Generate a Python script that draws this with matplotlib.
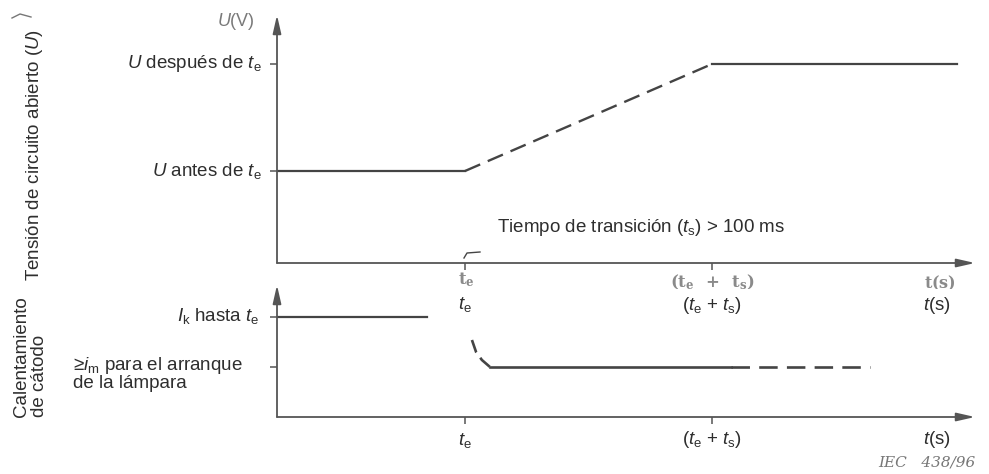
import matplotlib
matplotlib.use("Agg")
import matplotlib.pyplot as plt
from matplotlib.patches import Rectangle

plt.rcParams['font.family'] = ['Liberation Sans', 'DejaVu Sans']
plt.rcParams['mathtext.fontset'] = 'custom'
plt.rcParams['mathtext.rm'] = 'Liberation Sans'
plt.rcParams['mathtext.it'] = 'Liberation Sans:italic'
plt.rcParams['mathtext.bf'] = 'DejaVu Serif:bold'

# ---- data (arbitrary units) ----
t_e = 1.0                 # switching instant
t_s = 1.314               # transition time
t_axis_end = 3.713        # end of time axis
upper_t_end = 3.617       # end of drawn voltage line
U_before = 1.0            # U antes de t_e
U_after = 2.163           # U despues de t_e
U_axis_top = 2.696

I_k = 2.0                 # preheating current until t_e
i_m = 1.0                 # minimum current for lamp start
I_axis_top = 2.64
Ik_visible_end = 0.798
decay_t = [1.037, 1.059, 1.09, 1.133]
decay_i = [1.54, 1.30, 1.14, 1.0]
im_solid_end = 2.415
im_dashed_end = 3.154

tick_times = [t_e, t_e + t_s]
time_labels = [r"$t_\mathrm{e}$", r"($t_\mathrm{e}$ + $t_\mathrm{s}$)", r"$t$(s)"]
old_time_labels = [r"$\mathbf{t_e}$", r"$\mathbf{(t_e\ \ +\ \ t_s)}$", r"$\mathbf{t(s)}$"]

W, H = 989, 474
fig = plt.figure(figsize=(W / 100, H / 100), dpi=100)
fig.patch.set_facecolor('white')

def fx(x):
    return x / W

def fy(y):
    return 1 - y / H

LINE = '#444444'
AXC = '#555555'
TXT = '#2e2e2e'
FS = 13.5

def setup(ax, ymax, yticks):
    ax.set_xlim(0, t_axis_end)
    ax.set_ylim(0, ymax)
    for s in ax.spines.values():
        s.set_visible(False)
    ax.set_facecolor('none')
    ax.set_xticks(tick_times)
    ax.set_yticks(yticks)
    ax.tick_params(length=5, width=1.1, color=AXC, direction='out',
                   labelleft=False, labelbottom=False)
    ap = dict(arrowstyle='-|>,head_length=1.1,head_width=0.25', color=AXC,
              lw=1.3, shrinkA=0, shrinkB=0)
    ax.annotate('', xy=(1, 0), xytext=(0, 0), xycoords='axes fraction',
                arrowprops=ap, annotation_clip=False)
    ax.annotate('', xy=(0, 1), xytext=(0, 0), xycoords='axes fraction',
                arrowprops=ap, annotation_clip=False)

# ---- upper panel: open circuit voltage ----
ax_u = fig.add_axes([fx(277), fy(263), (975 - 277) / W, (263 - 15) / H])
setup(ax_u, U_axis_top, [U_before, U_after])
ax_u.plot([0, t_e], [U_before, U_before], color=LINE, lw=1.6)
ax_u.plot([t_e, t_e + t_s], [U_before, U_after], color=LINE, lw=1.7,
          dashes=(7, 3.5))
ax_u.plot([t_e + t_s, upper_t_end], [U_after, U_after], color=LINE, lw=1.6)

# ---- lower panel: cathode preheating ----
ax_l = fig.add_axes([fx(277), fy(417), (975 - 277) / W, (417 - 285) / H])
setup(ax_l, I_axis_top, [i_m, I_k])
ax_l.plot([0, Ik_visible_end], [I_k, I_k], color=LINE, lw=1.6)
ax_l.plot(decay_t, decay_i, color=LINE, lw=1.9, dashes=(5, 2.5))
ax_l.plot([decay_t[-1], im_solid_end], [i_m, i_m], color=LINE, lw=1.9)
ax_l.plot([im_solid_end, im_dashed_end], [i_m, i_m], color=LINE, lw=1.9,
          dashes=(7, 3.5))

# ---- old (scanned) time labels, partly covered by a white patch ----
OLD = '#8a8a8a'
for x, y, lab, fs in zip([466, 712, 940], [280, 282, 283], old_time_labels,
                         [12, 12, 11.5]):
    fig.text(fx(x), fy(y), lab, fontsize=fs, color=OLD, ha='center',
             va='center')
fig.patches.append(Rectangle((fx(430), fy(338)), (960 - 430) / W, (338 - 289) / H,
                             transform=fig.transFigure, facecolor='white',
                             edgecolor='none', zorder=5))

# ---- time labels ----
for yy in (305, 440):
    for x, lab in zip([465, 712, 937], time_labels):
        fig.text(fx(x), fy(yy), lab, fontsize=FS, color=TXT, ha='center',
                 va='center', zorder=6)

# ---- level labels ----
fig.text(fx(262), fy(64), r"$U$ después de $t_\mathrm{e}$", fontsize=FS,
         color=TXT, ha='right', va='center')
fig.text(fx(262), fy(171), r"$U$ antes de $t_\mathrm{e}$", fontsize=FS,
         color=TXT, ha='right', va='center')
fig.text(fx(259), fy(316), r"$I_\mathrm{k}$ hasta $t_\mathrm{e}$", fontsize=FS,
         color=TXT, ha='right', va='center')
fig.text(fx(73), fy(365), r"≥$i_\mathrm{m}$ para el arranque", fontsize=FS,
         color=TXT, ha='left', va='center')
fig.text(fx(73), fy(384), "de la lámpara", fontsize=FS, color=TXT,
         ha='left', va='center')
fig.text(fx(255), fy(21), r"$U$(V)", fontsize=13, color='#7a7a7a',
         ha='right', va='center')
fig.text(fx(497), fy(228), r"Tiempo de transición ($t_\mathrm{s}$) > 100 ms",
         fontsize=FS, color=TXT, ha='left', va='center')

# ---- axis titles ----
fig.text(fx(35), fy(281), r"Tensión de circuito abierto ($U$)", fontsize=FS,
         color=TXT, rotation=90, ha='center', va='bottom')
fig.text(fx(22), fy(417), "Calentamiento", fontsize=FS, color=TXT,
         rotation=90, ha='center', va='bottom')
fig.text(fx(40), fy(417), "de cátodo", fontsize=FS, color=TXT,
         rotation=90, ha='center', va='bottom')

# ---- small scan marks ----
fig.add_artist(plt.Line2D([fx(464), fx(467), fx(480)], [fy(258), fy(253), fy(252)],
                          color=LINE, lw=1.0))
fig.add_artist(plt.Line2D([fx(12), fx(20), fx(31)], [fy(18), fy(14), fy(17)],
                          color='#777777', lw=1.0))

fig.text(fx(975), fy(463), "IEC   438/96", family='DejaVu Serif', style='italic',
         fontsize=11, color='#777777', ha='right', va='center')

fig.savefig('out.png', dpi=100, facecolor='white')
